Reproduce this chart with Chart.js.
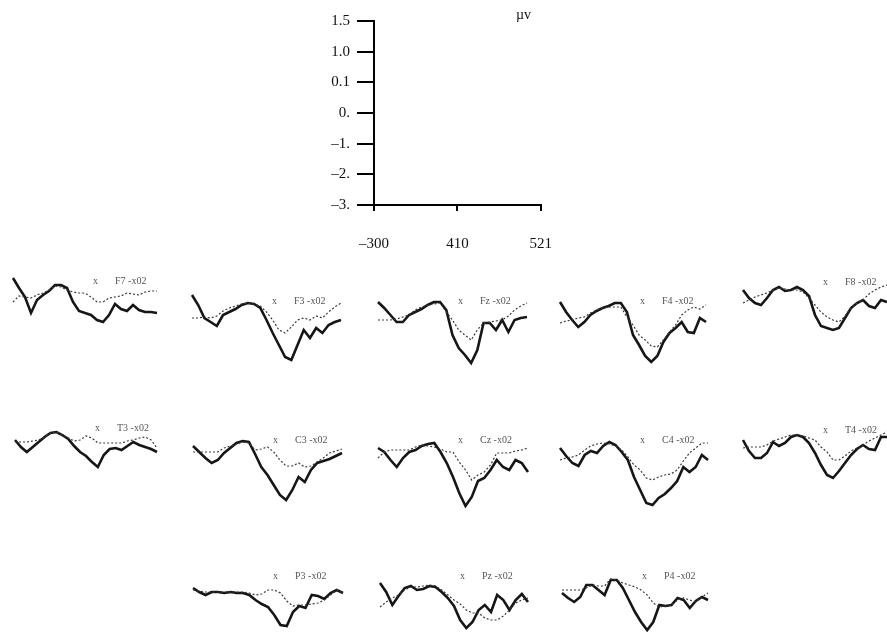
<!DOCTYPE html>
<html>
<head>
<meta charset="utf-8">
<script src="https://cdn.jsdelivr.net/npm/chart.js@4/dist/chart.umd.min.js"></script>
<style>
  body { margin: 0; background: #fff; }
  #page { position: relative; width: 887px; height: 632px; overflow: hidden; background: #fff; }
  canvas { position: absolute; }
  .lbl { position: absolute; font-family: "Liberation Serif", serif; font-size: 10px; color: #555; white-space: nowrap; }
  .unit { position: absolute; font-family: "Liberation Serif", serif; font-size: 14px; color: #111; }
</style>
</head>
<body>
<div id="page"></div>
<script>
// scale bar ticks
const scaleY = ['1.5', '1.0', '0.1', '0.', '–1.', '–2.', '–3.'];
const scaleX = ['–300', '410', '521'];

// sample index along each small trace
const timePoints = Array.from({ length: 25 }, (_, i) => i);

const panelNames = ['F7', 'F3', 'Fz', 'F4', 'F8', 'T3', 'C3', 'Cz', 'C4', 'T4', 'P3', 'Pz', 'P4'];

// thick trace (condition A) and thin trace (condition B), µV
const f7A = [1.7, 0.7, -0.2, -1.8, -0.5, 0, 0.4, 1.0, 1.0, 0.7, -0.7, -1.6, -1.8, -2.0, -2.5, -2.7, -2.0, -0.9, -1.4, -1.6, -1.0, -1.5, -1.7, -1.7, -1.8];
const f7B = [-0.7, -0.1, -0.2, -0.3, 0, 0.2, 0.5, 0.9, 0.8, 0.5, 0.3, 0.2, 0.2, -0.2, -0.7, -0.7, -0.3, -0.2, -0.1, 0.2, 0.1, 0, 0.3, 0.4, 0.4];
const f3A = [0, -1.0, -2.3, -2.7, -3.1, -2.0, -1.7, -1.4, -1.0, -0.8, -0.9, -1.3, -2.5, -3.8, -5.0, -6.2, -6.5, -5.0, -3.5, -4.3, -3.3, -3.8, -3.0, -2.7, -2.5];
const f3B = [-2.3, -2.3, -2.2, -2.3, -2.1, -1.6, -1.3, -1.1, -0.9, -0.8, -0.9, -1.1, -1.7, -2.5, -3.5, -3.8, -3.2, -2.5, -2.3, -2.5, -2.1, -2.3, -1.7, -1.2, -0.8];
const fzA = [-0.7, -1.3, -2.0, -2.7, -2.7, -2.0, -1.7, -1.4, -1.0, -0.7, -0.7, -1.5, -4.0, -5.3, -6.0, -6.8, -5.5, -2.8, -2.8, -3.5, -2.5, -3.7, -2.5, -2.3, -2.2];
const fzB = [-2.5, -2.5, -2.5, -2.4, -2.2, -2.0, -1.5, -1.2, -1.0, -0.9, -0.8, -1.7, -2.5, -3.5, -4.0, -4.5, -3.5, -2.8, -2.7, -2.6, -2.5, -2.1, -1.5, -1.1, -0.8];
const f4A = [-0.7, -1.7, -2.5, -3.2, -2.7, -2.0, -1.6, -1.3, -1.1, -0.8, -0.8, -1.7, -4.0, -5.0, -6.1, -6.7, -6.1, -4.7, -3.8, -3.3, -2.7, -3.7, -3.8, -2.3, -2.7];
const f4B = [-2.8, -2.6, -2.5, -2.3, -2.2, -1.8, -1.5, -1.3, -1.2, -1.2, -1.2, -2.2, -3.0, -4.0, -4.5, -5.1, -5.2, -4.5, -3.7, -3.0, -2.0, -1.5, -1.2, -1.4, -1.0];
const f8A = [0.5, -0.3, -0.8, -1.0, -0.3, 0.5, 0.8, 0.4, 0.5, 0.8, 0.5, -0.1, -2.0, -3.1, -3.3, -3.5, -3.3, -2.3, -1.3, -0.8, -0.5, -1.1, -1.3, -0.5, -0.7];
const f8B = [-0.8, -0.5, -0.2, 0, 0.2, 0.5, 0.7, 0.6, 0.5, 0.5, 0.3, -0.3, -1.0, -1.7, -2.2, -2.5, -2.7, -2.1, -1.3, -0.8, -0.5, 0.1, 0.5, 0.8, 1.0];
const t3A = [0, -0.7, -1.2, -0.7, -0.2, 0.3, 0.7, 0.8, 0.5, 0.1, -0.6, -1.2, -1.6, -2.2, -2.7, -1.5, -0.9, -0.8, -1.0, -0.6, -0.2, -0.5, -0.7, -0.9, -1.2];
const t3B = [-0.2, -0.2, -0.2, -0.1, 0, 0.3, 0.7, 0.8, 0.5, 0.2, -0.1, 0, 0.4, 0.2, -0.3, -0.3, -0.3, -0.3, -0.3, -0.1, 0, 0.2, 0.3, 0, -0.8];
const c3A = [-0.6, -1.2, -1.8, -2.3, -2.0, -1.3, -0.8, -0.3, -0.1, -0.2, -1.4, -2.7, -3.5, -4.5, -5.5, -6.0, -5.0, -3.7, -4.2, -3.0, -2.3, -2.1, -1.9, -1.6, -1.3];
const c3B = [-1.2, -1.2, -1.2, -1.2, -1.2, -0.8, -0.6, -0.4, -0.2, -0.3, -1.0, -0.9, -0.7, -1.2, -2.0, -2.6, -2.6, -2.3, -2.7, -2.6, -2.2, -1.8, -1.3, -1.1, -0.9];
const czA = [-0.8, -1.2, -2.0, -2.7, -1.8, -1.2, -1.0, -0.6, -0.4, -0.3, -1.2, -2.3, -3.7, -5.3, -6.6, -5.7, -4.1, -3.8, -3.0, -2.0, -2.7, -3.0, -2.0, -2.3, -3.2];
const czB = [-1.8, -1.2, -1.0, -1.0, -1.0, -1.0, -0.7, -0.5, -0.6, -0.7, -0.9, -1.2, -1.2, -2.2, -3.0, -4.0, -3.5, -3.2, -2.5, -1.3, -1.3, -1.3, -1.1, -1.0, -0.8];
const c4A = [-0.8, -1.6, -2.3, -2.6, -1.5, -1.1, -1.3, -0.6, -0.2, -0.5, -1.2, -2.0, -3.7, -5.0, -6.3, -6.5, -5.8, -5.4, -4.8, -4.1, -2.7, -3.2, -2.7, -1.5, -2.0];
const c4B = [-2.0, -1.8, -1.7, -1.5, -1.0, -0.6, -0.4, -0.3, -0.4, -0.6, -1.0, -1.7, -2.5, -3.0, -3.8, -4.0, -3.7, -3.5, -3.4, -3.0, -2.1, -1.3, -0.8, -0.3, -0.3];
const t4A = [0, -1.1, -1.8, -1.8, -1.3, -0.2, -0.6, -0.3, 0.3, 0.5, 0.3, -0.3, -1.3, -2.5, -3.5, -3.8, -3.1, -2.3, -1.5, -0.9, -0.5, -0.9, -1.0, 0.3, 0.3];
const t4B = [-0.8, -0.7, -0.7, -0.7, -0.5, -0.1, 0.1, 0.3, 0.5, 0.5, 0.4, 0.2, 0, -0.7, -1.2, -2.0, -2.0, -1.6, -1.1, -0.8, -0.5, -0.1, 0.2, 0.5, 0.8];
const p3A = [-0.3, -0.7, -1.0, -0.7, -0.7, -0.8, -0.7, -0.8, -0.8, -1.0, -1.5, -1.9, -2.2, -3.0, -4.0, -4.1, -2.7, -2.1, -2.3, -1.0, -1.1, -1.4, -0.8, -0.5, -0.8];
const p3B = [-0.5, -0.6, -0.7, -0.7, -0.7, -0.7, -0.7, -0.7, -0.7, -0.8, -1.0, -0.9, -0.5, -0.5, -0.8, -1.6, -2.1, -2.0, -2.0, -1.9, -1.8, -1.5, -1.0, -0.5, -0.8];
const pzA = [0.2, -0.7, -2.0, -1.1, -0.3, -0.1, -0.5, -0.4, -0.1, -0.2, -0.7, -1.3, -2.1, -3.5, -4.3, -3.7, -2.5, -2.0, -2.7, -1.0, -1.5, -2.5, -1.5, -0.9, -1.7];
const pzB = [-2.2, -1.7, -1.3, -1.0, -0.5, -0.2, -0.2, -0.1, 0, -0.1, -0.5, -1.0, -1.5, -1.9, -2.5, -2.8, -2.8, -3.3, -3.5, -3.5, -3.1, -2.5, -1.8, -1.5, -1.3];
const p4A = [-0.8, -1.3, -1.7, -1.2, 0, 0, -0.5, -1.0, 0.5, 0.5, -0.3, -1.5, -2.7, -3.7, -4.5, -3.7, -2.0, -2.1, -2.0, -1.3, -1.5, -2.3, -1.6, -1.2, -1.5];
const p4B = [-0.5, -0.5, -0.5, -0.5, -0.3, 0, -0.1, -0.1, 0.6, 0.5, 0.2, 0, -0.2, -0.5, -1.0, -1.8, -2.2, -2.1, -2.0, -1.5, -1.3, -1.5, -1.7, -1.2, -0.8];

const seriesA = [f7A, f3A, fzA, f4A, f8A, t3A, c3A, czA, c4A, t4A, p3A, pzA, p4A];
const seriesB = [f7B, f3B, fzB, f4B, f8B, t3B, c3B, czB, c4B, t4B, p3B, pzB, p4B];

// where each small panel sits: left edge, zero line, width, label offset
const panelBoxes = [
  [13, 295, 144, -13], [192, 295, 149, 7], [378, 295, 149, 7], [560, 295, 146, 7], [743, 295, 144, -12],
  [15, 440, 142, -11], [193, 440, 149, 1], [378, 440, 150, 1], [560, 440, 148, 1], [743, 440, 144, -9],
  [193, 585, 150, -8], [380, 585, 148, -8], [562, 585, 146, -8]
];

const page = document.getElementById('page');
const serif = "'Liberation Serif', 'DejaVu Serif', serif";

function addCanvas(left, top, w, h) {
  const c = document.createElement('canvas');
  c.width = w;
  c.height = h;
  c.style.left = left + 'px';
  c.style.top = top + 'px';
  page.append(c);
  return c;
}

function createScaleBar() {
  const canvas = addCanvas(300, 0, 276, 260);
  new Chart(canvas, {
    type: 'line',
    data: { labels: scaleX, datasets: [] },
    options: {
      responsive: false,
      animation: false,
      layout: { padding: { top: 21, right: 0, bottom: 0, left: 0 } },
      plugins: { legend: { display: false }, tooltip: { enabled: false } },
      scales: {
        x: {
          type: 'category',
          offset: false,
          grid: { drawOnChartArea: false, color: '#000', lineWidth: 2, tickLength: 6 },
          border: { color: '#000', width: 2 },
          ticks: { color: '#111', padding: 24, font: { family: serif, size: 15 }, maxRotation: 0, autoSkip: false },
          afterFit: (s) => { s.height = 55 }
        },
        y: {
          type: 'category',
          labels: scaleY,
          offset: false,
          grid: { drawOnChartArea: false, color: '#000', lineWidth: 2, tickLength: 17 },
          border: { color: '#000', width: 2 },
          ticks: { color: '#111', padding: 7, font: { family: serif, size: 15 }, autoSkip: false },
          afterFit: (s) => { s.width = 74 }
        }
      }
    }
  });
  const unit = document.createElement('div');
  unit.className = 'unit';
  unit.textContent = 'µv';
  unit.style.left = '516px';
  unit.style.top = '7px';
  page.append(unit);
}

function createPanel(idx) {
  const [left, zero, width, labelDy] = panelBoxes[idx];
  const canvas = addCanvas(left - 3, zero - 33, width + 6, 116);
  new Chart(canvas, {
    type: 'line',
    data: {
      labels: timePoints,
      datasets: [
        {
          data: seriesB[idx],
          borderColor: '#3a3a3a',
          borderWidth: 1.2,
          borderDash: [2, 2],
          pointRadius: 0,
          tension: 0,
          clip: false
        },
        {
          data: seriesA[idx],
          borderColor: '#161616',
          borderWidth: 2.6,
          pointRadius: 0,
          tension: 0,
          clip: false
        }
      ]
    },
    options: {
      responsive: false,
      animation: false,
      layout: { padding: 3 },
      plugins: { legend: { display: false }, tooltip: { enabled: false } },
      scales: {
        x: { type: 'category', display: false, offset: false },
        y: { display: false, min: -8, max: 3 }
      }
    }
  });

  const mark = document.createElement('div');
  mark.className = 'lbl';
  mark.textContent = 'x';
  mark.style.left = (left + 80) + 'px';
  mark.style.top = (zero + labelDy - 7) + 'px';
  page.append(mark);

  const name = document.createElement('div');
  name.className = 'lbl';
  name.textContent = `${panelNames[idx]} -x02`;
  name.style.left = (left + 102) + 'px';
  name.style.top = (zero + labelDy - 7) + 'px';
  page.append(name);
}

createScaleBar();
panelNames.forEach((n, i) => createPanel(i));
</script>
</body>
</html>
